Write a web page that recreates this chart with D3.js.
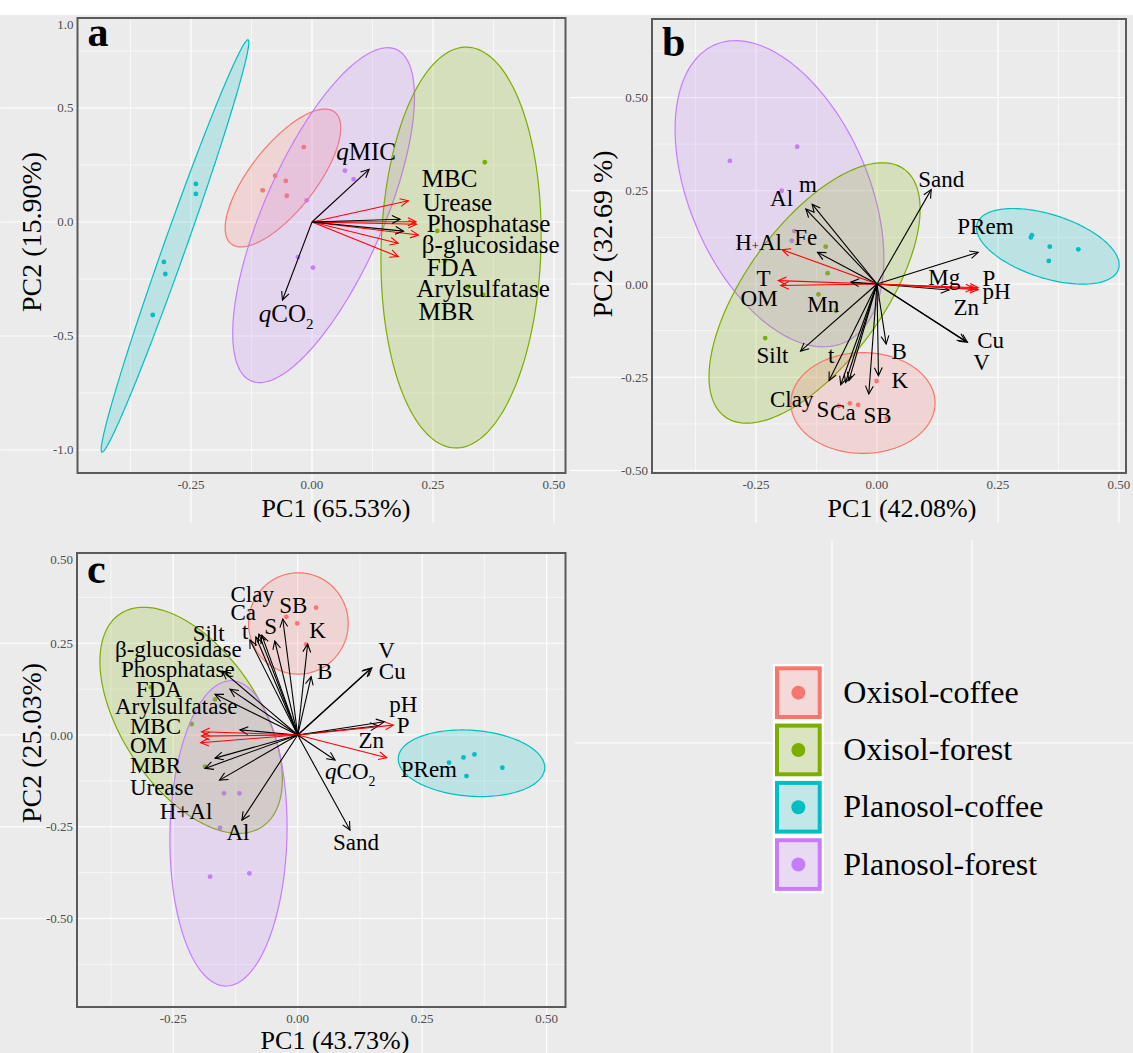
<!DOCTYPE html>
<html>
<head>
<meta charset="utf-8">
<script src="https://cdn.jsdelivr.net/npm/d3@7"></script>
<style>
  body { margin: 0; background: #fff; }
  svg { display: block; }
  text { font-family: "Liberation Serif", "Times New Roman", serif; }
</style>
</head>
<body>
<svg id="chart" width="1133" height="1053"></svg>
<script>
const groups = ["Oxisol-coffee", "Oxisol-forest", "Planosol-coffee", "Planosol-forest"];
const groupColors = ["#F8766D", "#7CAE00", "#00BFC4", "#C77CFF"];

// ---- panel a : biological attributes ----
const aScores = [
  ["Oxisol-coffee", -0.102, 0.139], ["Oxisol-coffee", -0.076, 0.203], ["Oxisol-coffee", -0.054, 0.180],
  ["Oxisol-coffee", -0.052, 0.115], ["Oxisol-coffee", -0.017, 0.328],
  ["Oxisol-forest", 0.357, 0.262], ["Oxisol-forest", 0.259, -0.039], ["Oxisol-forest", 0.275, -0.170],
  ["Oxisol-forest", 0.323, -0.284], ["Oxisol-forest", 0.354, -0.320],
  ["Planosol-coffee", -0.240, 0.167], ["Planosol-coffee", -0.240, 0.123], ["Planosol-coffee", -0.306, -0.175],
  ["Planosol-coffee", -0.303, -0.228], ["Planosol-coffee", -0.329, -0.408],
  ["Planosol-forest", 0.068, 0.225], ["Planosol-forest", 0.086, 0.188], ["Planosol-forest", -0.011, 0.095],
  ["Planosol-forest", -0.029, -0.154], ["Planosol-forest", 0.002, -0.200]
];
// [group, centre x, centre y, semi-axis u (x,y), semi-axis v (x,y)]
const aEllipses = [
  ["Planosol-coffee", -0.283, -0.105, 0.151, 0.904, 0.0215, -0.0162],
  ["Oxisol-coffee", -0.060, 0.193, 0.107, 0.289, 0.053, -0.089],
  ["Planosol-forest", 0.024, 0.030, 0.150, 0.727, 0.113, -0.105],
  ["Oxisol-forest", 0.308, -0.112, 0.0124, 0.879, 0.165, -0.0105]
];
// [variable, x, y, highlighted]
const aLoadings = [
  ["qMIC", 0.118, 0.231, false], ["qCO2", -0.061, -0.342, false],
  ["MBC", 0.199, 0.093, true], ["Urease", 0.215, 0.001, true], ["Phosphatase", 0.216, -0.010, true],
  ["β-glucosidase", 0.220, -0.057, true], ["FDA", 0.178, -0.093, true], ["Arylsulfatase", 0.178, -0.152, true],
  ["MBR", 0.182, 0.012, false], ["MBR2", 0.189, -0.040, false]
];
const aLabels = [
  ["qMIC", 0.050, 0.272], ["MBC", 0.227, 0.152], ["Urease", 0.229, 0.050], ["Phosphatase", 0.237, -0.043],
  ["β-glucosidase", 0.227, -0.134], ["FDA", 0.237, -0.237], ["Arylsulfatase", 0.216, -0.328],
  ["MBR", 0.220, -0.430], ["qCO2", -0.110, -0.437]
];
const aXTicks = [-0.25, 0, 0.25, 0.5];
const aYTicks = [1.0, 0.5, 0, -0.5, -1.0];

// ---- panel b : chemical and physical attributes ----
const bScores = [
  ["Oxisol-coffee", -0.001, -0.260], ["Oxisol-coffee", -0.079, -0.327], ["Oxisol-coffee", -0.056, -0.320],
  ["Oxisol-coffee", -0.039, -0.324], ["Oxisol-coffee", 0.020, -0.360],
  ["Oxisol-forest", -0.106, 0.100], ["Oxisol-forest", -0.102, 0.029], ["Oxisol-forest", -0.121, -0.028],
  ["Oxisol-forest", -0.085, -0.072], ["Oxisol-forest", -0.231, -0.145],
  ["Planosol-coffee", 0.318, 0.125], ["Planosol-coffee", 0.320, 0.131], ["Planosol-coffee", 0.357, 0.100],
  ["Planosol-coffee", 0.416, 0.093], ["Planosol-coffee", 0.355, 0.062],
  ["Planosol-forest", -0.304, 0.330], ["Planosol-forest", -0.165, 0.368], ["Planosol-forest", -0.197, 0.250],
  ["Planosol-forest", -0.171, 0.142], ["Planosol-forest", -0.176, 0.116]
];
const bEllipses = [
  ["Planosol-forest", -0.2015, 0.242, 0.134, -0.399, 0.169, 0.096],
  ["Oxisol-forest", -0.129, -0.024, 0.185, 0.332, 0.1155, -0.108],
  ["Oxisol-coffee", -0.029, -0.319, 0.149, 0, 0, -0.135],
  ["Planosol-coffee", 0.353, 0.101, 0.146, -0.061, -0.020, -0.081]
];
const bLoadings = [
  ["m", -0.147, 0.201, false], ["Al", -0.134, 0.214, false], ["Fe", -0.123, 0.085, false],
  ["H+Al", -0.196, 0.092, true], ["T", -0.204, 0.009, true], ["OM", -0.199, -0.004, true],
  ["Mn", -0.054, 0.005, false], ["Silt", -0.158, -0.180, false], ["t", -0.099, -0.259, false],
  ["Clay", -0.075, -0.270, false], ["S", -0.065, -0.264, false], ["Ca", -0.058, -0.259, false],
  ["SB", -0.017, -0.295, false], ["K", 0.003, -0.246, false], ["B", 0.019, -0.161, false],
  ["Sand", 0.112, 0.253, false], ["PRem", 0.209, 0.085, false], ["Mg", 0.149, -0.016, false],
  ["P", 0.209, -0.010, true], ["pH", 0.209, -0.015, true], ["Zn", 0.200, -0.012, true],
  ["Cu", 0.187, -0.156, false], ["V", 0.183, -0.154, false]
];
const bLabels = [
  ["Al", -0.221, 0.209], ["m", -0.161, 0.247], ["Fe", -0.171, 0.105], ["H+Al", -0.293, 0.091],
  ["T", -0.249, -0.005], ["OM", -0.282, -0.059], ["Mn", -0.144, -0.074], ["Silt", -0.249, -0.213],
  ["t", -0.101, -0.213], ["Clay", -0.221, -0.329], ["S", -0.125, -0.356], ["Ca", -0.097, -0.365],
  ["SB", -0.028, -0.372], ["K", 0.030, -0.280], ["B", 0.030, -0.201], ["Sand", 0.085, 0.261],
  ["PRem", 0.166, 0.133], ["Mg", 0.106, -0.003], ["P", 0.218, -0.005], ["pH", 0.218, -0.041],
  ["Zn", 0.158, -0.083], ["Cu", 0.207, -0.172], ["V", 0.199, -0.231]
];
const bXTicks = [-0.25, 0, 0.25, 0.5];
const bYTicks = [0.5, 0.25, 0, -0.25, -0.5];

// ---- panel c : all attributes ----
const cScores = [
  ["Oxisol-coffee", 0.037, 0.347], ["Oxisol-coffee", -0.023, 0.322], ["Oxisol-coffee", -0.001, 0.304],
  ["Oxisol-coffee", 0.017, 0.247],
  ["Oxisol-forest", -0.295, 0.130], ["Oxisol-forest", -0.166, 0.097], ["Oxisol-forest", -0.213, 0.030],
  ["Oxisol-forest", -0.186, -0.086],
  ["Planosol-coffee", 0.304, -0.075], ["Planosol-coffee", 0.333, -0.061], ["Planosol-coffee", 0.355, -0.053],
  ["Planosol-coffee", 0.339, -0.112], ["Planosol-coffee", 0.411, -0.089],
  ["Planosol-forest", -0.148, -0.159], ["Planosol-forest", -0.117, -0.159], ["Planosol-forest", -0.156, -0.253],
  ["Planosol-forest", -0.176, -0.386], ["Planosol-forest", -0.097, -0.377]
];
const cEllipses = [
  ["Oxisol-coffee", 0.0014, 0.304, 0.100, 0, 0, -0.138],
  ["Oxisol-forest", -0.214, 0.040, 0.1426, -0.290, -0.115, -0.104],
  ["Planosol-forest", -0.139, -0.268, 0.006, 0.416, 0.1175, -0.0033],
  ["Planosol-coffee", 0.349, -0.077, 0.147, -0.0147, -0.0048, -0.0896]
];
const cLoadings = [
  ["Silt", -0.096, 0.259, false], ["t", -0.084, 0.267, false], ["Ca", -0.078, 0.275, false],
  ["Clay", -0.072, 0.272, false], ["S", -0.046, 0.256, false], ["SB", -0.030, 0.316, false],
  ["K", 0.020, 0.248, false], ["B", 0.027, 0.159, false],
  ["β-glucosidase", -0.151, 0.174, false], ["Phosphatase", -0.136, 0.125, false], ["FDA", -0.166, 0.111, false],
  ["MBC", -0.116, 0.014, false], ["OM", -0.193, 0.009, true], ["Arylsulfatase", -0.193, -0.003, true],
  ["T", -0.195, -0.021, true], ["MBR", -0.186, -0.091, false], ["H+Al", -0.166, -0.063, false],
  ["Urease", -0.157, -0.123, false], ["Al", -0.112, -0.232, false],
  ["V", 0.149, 0.183, false], ["Cu", 0.146, 0.181, false], ["pH", 0.174, 0.036, false],
  ["Zn", 0.162, 0.025, false], ["P", 0.192, 0.027, true], ["PRem", 0.179, -0.062, true],
  ["qCO2", 0.075, -0.068, false], ["Sand", 0.105, -0.259, false]
];
const cLabels = [
  ["Clay", -0.135, 0.363], ["Ca", -0.135, 0.313], ["SB", -0.037, 0.332], ["S", -0.067, 0.275],
  ["K", 0.023, 0.263], ["t", -0.112, 0.261], ["Silt", -0.211, 0.256], ["β-glucosidase", -0.367, 0.213],
  ["Phosphatase", -0.355, 0.159], ["FDA", -0.325, 0.104], ["Arylsulfatase", -0.367, 0.057],
  ["MBC", -0.337, 0.003], ["OM", -0.337, -0.050], ["MBR", -0.337, -0.104], ["Urease", -0.337, -0.163],
  ["H+Al", -0.277, -0.228], ["Al", -0.143, -0.286], ["B", 0.039, 0.153], ["V", 0.162, 0.209],
  ["Cu", 0.163, 0.152], ["pH", 0.184, 0.063], ["P", 0.199, 0.005], ["Zn", 0.122, -0.036],
  ["PRem", 0.207, -0.114], ["qCO2", 0.055, -0.121], ["Sand", 0.071, -0.313]
];
const cXTicks = [-0.25, 0, 0.25, 0.5];
const cYTicks = [0.5, 0.25, 0, -0.25, -0.5];

const color = d3.scaleOrdinal().domain(groups).range(groupColors);
const svg = d3.select("#chart");

// page background
svg.append("rect").attr("width", 1133).attr("height", 1053).attr("fill", "#fff");
svg.append("rect").attr("y", 15).attr("width", 1133).attr("height", 1038).attr("fill", "#EBEBEB");

function addLabel(g, str, x, y, size, smallPlus) {
  const t = g.append("text").attr("x", x).attr("y", y).attr("font-size", size).attr("fill", "#000");
  if (str === "qCO2") {
    t.append("tspan").attr("font-style", "italic").text("q");
    t.append("tspan").text("CO");
    t.append("tspan").attr("font-size", size * 0.6).attr("dy", size * 0.28).text("2");
  } else if (str === "qMIC") {
    t.append("tspan").attr("font-style", "italic").text("q");
    t.append("tspan").text("MIC");
  } else if (str === "H+Al" && smallPlus) {
    t.append("tspan").text("H");
    t.append("tspan").attr("font-size", size * 0.55).text("+");
    t.append("tspan").text("Al");
  } else {
    t.text(str);
  }
}

function minorValues(domain, step) {
  const out = [];
  for (let k = Math.floor(domain[0] / step) - 1; k <= Math.ceil(domain[1] / step) + 1; k++) {
    const v = (k + 0.5) * step;
    if (v > domain[0] && v < domain[1]) out.push(v);
  }
  return out;
}

function biplot(cfg) {
  const f = cfg.frame;
  const x = d3.scaleLinear().domain(cfg.xDomain).range([f.l, f.r]);
  const y = d3.scaleLinear().domain(cfg.yDomain).range([f.b, f.t]);
  const g = svg.append("g");

  const xMaj = cfg.xTicks.filter(v => v > cfg.xDomain[0] && v < cfg.xDomain[1]);
  const yMaj = cfg.yTicks.filter(v => v > cfg.yDomain[0] && v < cfg.yDomain[1]);

  // grid lines spilling into the margins
  g.selectAll(".ox").data(yMaj).join("line")
    .attr("x1", f.l - cfg.marginL).attr("x2", f.l).attr("y1", d => y(d)).attr("y2", d => y(d))
    .attr("stroke", "#fff").attr("stroke-width", 1.1);
  g.selectAll(".oy").data(xMaj).join("line")
    .attr("y1", f.b).attr("y2", f.b + cfg.marginB).attr("x1", d => x(d)).attr("x2", d => x(d))
    .attr("stroke", "#fff").attr("stroke-width", 1.1);

  const clipId = "clip-" + cfg.letter;
  svg.append("clipPath").attr("id", clipId).append("rect")
    .attr("x", f.l).attr("y", f.t).attr("width", f.r - f.l).attr("height", f.b - f.t);
  const plot = g.append("g").attr("clip-path", `url(#${clipId})`);

  // minor + major grid
  plot.selectAll(".mx").data(minorValues(cfg.xDomain, 0.25)).join("line")
    .attr("x1", d => x(d)).attr("x2", d => x(d)).attr("y1", f.t).attr("y2", f.b)
    .attr("stroke", "#fff").attr("stroke-width", 0.6);
  plot.selectAll(".my").data(minorValues(cfg.yDomain, cfg.yStep)).join("line")
    .attr("y1", d => y(d)).attr("y2", d => y(d)).attr("x1", f.l).attr("x2", f.r)
    .attr("stroke", "#fff").attr("stroke-width", 0.6);
  plot.selectAll(".gx").data(xMaj).join("line")
    .attr("x1", d => x(d)).attr("x2", d => x(d)).attr("y1", f.t).attr("y2", f.b)
    .attr("stroke", "#fff").attr("stroke-width", 1.2);
  plot.selectAll(".gy").data(yMaj).join("line")
    .attr("y1", d => y(d)).attr("y2", d => y(d)).attr("x1", f.l).attr("x2", f.r)
    .attr("stroke", "#fff").attr("stroke-width", 1.2);

  // sample points
  plot.selectAll(".pt").data(cfg.scores).join("circle")
    .attr("cx", d => x(d[1])).attr("cy", d => y(d[2])).attr("r", 2.4)
    .attr("fill", d => color(d[0]));

  // confidence ellipses
  const line = d3.line().curve(d3.curveLinearClosed);
  cfg.ellipses.forEach(e => {
    const pts = d3.range(0, 2 * Math.PI, Math.PI / 90).map(a => [
      x(e[1] + e[3] * Math.cos(a) + e[5] * Math.sin(a)),
      y(e[2] + e[4] * Math.cos(a) + e[6] * Math.sin(a))
    ]);
    plot.append("path").attr("d", line(pts))
      .attr("fill", color(e[0])).attr("fill-opacity", 0.2)
      .attr("stroke", color(e[0])).attr("stroke-width", 1.2);
  });

  // loading arrows
  const ox = x(0), oy = y(0);
  cfg.loadings.forEach(d => {
    const tx = x(d[1]), ty = y(d[2]);
    const ang = Math.atan2(ty - oy, tx - ox);
    const hl = 9, spread = 0.45;
    const col = d[3] ? "#FF0000" : "#000";
    plot.append("line").attr("x1", ox).attr("y1", oy).attr("x2", tx).attr("y2", ty)
      .attr("stroke", col).attr("stroke-width", 1.1);
    plot.append("path")
      .attr("d", `M${tx - hl * Math.cos(ang - spread)},${ty - hl * Math.sin(ang - spread)}L${tx},${ty}L${tx - hl * Math.cos(ang + spread)},${ty - hl * Math.sin(ang + spread)}`)
      .attr("fill", "none").attr("stroke", col).attr("stroke-width", 1.1);
  });

  // variable labels
  cfg.labels.forEach(d => addLabel(g, d[0], x(d[1]), y(d[2]), cfg.labelSize, cfg.smallPlus));

  // panel border
  g.append("rect").attr("x", f.l).attr("y", f.t).attr("width", f.r - f.l).attr("height", f.b - f.t)
    .attr("fill", "none").attr("stroke", "#5a5a5a").attr("stroke-width", 2);

  // panel letter
  g.append("text").attr("x", f.l + 10).attr("y", cfg.letterY).attr("font-size", 42)
    .attr("font-weight", "bold").text(cfg.letter);

  // tick labels
  g.selectAll(".tx").data(cfg.xTicks).join("text")
    .attr("x", d => x(d)).attr("y", f.b + 16).attr("text-anchor", "middle")
    .attr("font-size", 13).attr("fill", "#4D4D4D").text(d => d.toFixed(cfg.xDigits));
  g.selectAll(".ty").data(cfg.yTicks).join("text")
    .attr("x", f.l - 4).attr("y", d => Math.max(y(d), f.t + 6) + 4.5).attr("text-anchor", "end")
    .attr("font-size", 13).attr("fill", "#4D4D4D").text(d => d.toFixed(cfg.yDigits));

  // axis titles
  g.append("text").attr("x", cfg.xTitlePos[0]).attr("y", cfg.xTitlePos[1]).attr("text-anchor", "middle")
    .attr("font-size", 26).text(cfg.xTitle);
  g.append("text").attr("transform", `translate(${cfg.yTitlePos[0]},${cfg.yTitlePos[1]}) rotate(-90)`)
    .attr("text-anchor", "middle").attr("font-size", 28).text(cfg.yTitle);
}

biplot({
  letter: "a", frame: { l: 77.5, t: 18, r: 565.5, b: 473 },
  xDomain: [-0.4845, 0.5238], yDomain: [-1.1009, 0.8947], yStep: 0.5,
  scores: aScores, ellipses: aEllipses, loadings: aLoadings, labels: aLabels,
  xTicks: aXTicks, yTicks: aYTicks, xDigits: 2, yDigits: 1,
  labelSize: 25, smallPlus: false, letterY: 46, marginL: 77, marginB: 50,
  xTitle: "PC1 (65.53%)", yTitle: "PC2 (15.90%)", xTitlePos: [336, 517], yTitlePos: [41, 232]
});

biplot({
  letter: "b", frame: { l: 652, t: 19, r: 1126, b: 473 },
  xDomain: [-0.4649, 0.5145], yDomain: [-0.5067, 0.7105], yStep: 0.25,
  scores: bScores, ellipses: bEllipses, loadings: bLoadings, labels: bLabels,
  xTicks: bXTicks, yTicks: bYTicks, xDigits: 2, yDigits: 2,
  labelSize: 23, smallPlus: true, letterY: 56, marginL: 82, marginB: 50,
  xTitle: "PC1 (42.08%)", yTitle: "PC2 (32.69 %)", xTitlePos: [902, 517], yTitlePos: [612, 234]
});

biplot({
  letter: "c", frame: { l: 77, t: 553, r: 565.5, b: 1007 },
  xDomain: [-0.4432, 0.5378], yDomain: [-0.7411, 0.4959], yStep: 0.25,
  scores: cScores, ellipses: cEllipses, loadings: cLoadings, labels: cLabels,
  xTicks: cXTicks, yTicks: cYTicks, xDigits: 2, yDigits: 2,
  labelSize: 23, smallPlus: false, letterY: 583, marginL: 77, marginB: 46,
  xTitle: "PC1 (43.73%)", yTitle: "PC2 (25.03%)", xTitlePos: [335, 1049], yTitlePos: [41, 743]
});

// legend panel background grid
const lg = svg.append("g");
[832, 972].forEach(v => lg.append("line").attr("x1", v).attr("x2", v).attr("y1", 540).attr("y2", 1053)
  .attr("stroke", "#fff").attr("stroke-width", 1.1));
[743].forEach(v => lg.append("line").attr("y1", v).attr("y2", v).attr("x1", 575).attr("x2", 1133)
  .attr("stroke", "#fff").attr("stroke-width", 1.1));

// legend
const keyW = 51.3, keyH = 57.3, keyX = 772.7, keyY = 664;
lg.append("rect").attr("x", keyX).attr("y", keyY).attr("width", keyW).attr("height", keyH * groups.length)
  .attr("fill", "#fff");
const key = lg.selectAll(".key").data(groups).join("g")
  .attr("transform", (d, i) => `translate(${keyX},${keyY + i * keyH})`);
key.append("rect").attr("x", 4.3).attr("y", 4.3).attr("width", keyW - 8.6).attr("height", keyH - 8.6)
  .attr("fill", "#F2F2F2");
key.append("rect").attr("x", 4.3).attr("y", 4.3).attr("width", keyW - 8.6).attr("height", keyH - 8.6)
  .attr("fill", d => color(d)).attr("fill-opacity", 0.2)
  .attr("stroke", d => color(d)).attr("stroke-width", 4);
key.append("circle").attr("cx", keyW / 2).attr("cy", keyH / 2).attr("r", 7).attr("fill", d => color(d));
key.append("text").attr("x", 70.6).attr("y", keyH / 2 + 10).attr("font-size", 32).text(d => d);
</script>
</body>
</html>
